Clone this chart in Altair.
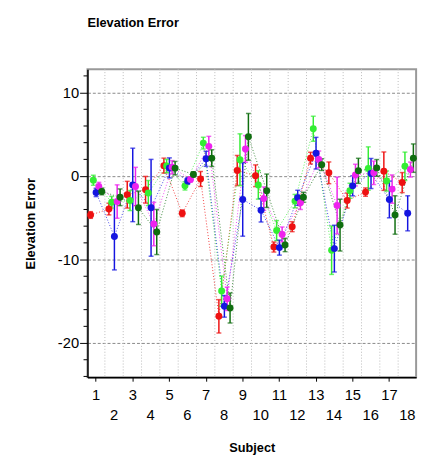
import altair as alt
import pandas as pd

subjects = list(range(1, 19))
series_names = ["red", "lightgreen", "blue", "magenta", "darkgreen"]
series_colors = ["#ee1111", "#33ee33", "#1515e0", "#ee22ee", "#0f6e0f"]
series_offsets = [-0.28, -0.13, 0.02, 0.17, 0.33]

red_mean = [-4.66, -3.95, -2.23, -1.64, 1.25, -4.46, -0.35, -16.8, 0.67, 0.04, -8.5, -6.06, 2.15, 0.39, -2.93, -1.92, 0.59, -0.78]
red_err = [0.4, 0.7, 1.6, 1.6, 0.9, 0.4, 0.9, 2.0, 1.8, 1.3, 0.6, 0.6, 0.7, 1.3, 0.9, 0.5, 2.3, 1.2]
green_mean = [-0.5, -3.13, -2.93, -2.03, 1.2, -1.17, 3.95, -13.77, 1.96, -1.06, -6.53, -3.0, 5.67, -8.88, -1.76, 0.9, -0.59, 1.17]
green_err = [0.6, 0.7, 1.2, 1.5, 0.8, 0.5, 0.7, 1.8, 3.1, 1.7, 1.2, 0.8, 1.5, 2.9, 0.9, 2.6, 1.2, 1.7]
blue_mean = [-1.96, -7.24, -1.06, -3.8, 0.98, -0.59, 2.07, -15.6, -2.8, -4.1, -8.57, -2.6, 2.74, -8.69, -1.17, 0.31, -2.8, -4.46]
blue_err = [0.5, 4.0, 4.4, 5.8, 1.2, 0.4, 0.9, 1.3, 4.4, 1.4, 0.9, 0.9, 1.9, 2.8, 1.2, 1.8, 2.2, 2.1]
magenta_mean = [-1.25, -3.05, -1.25, -5.75, 1.05, -0.4, 3.56, -14.7, 3.25, -2.7, -7.0, -3.2, 2.0, -3.52, 0.12, 0.39, -1.56, 0.78]
magenta_err = [0.5, 2.0, 2.3, 2.6, 0.8, 0.3, 1.2, 1.4, 1.6, 1.4, 0.9, 0.8, 1.0, 3.4, 1.3, 1.4, 1.7, 0.9]
dkgreen_mean = [-1.84, -2.54, -3.8, -6.7, 0.95, 0.2, 2.15, -15.8, 4.7, -1.76, -8.25, -2.54, 1.37, -5.87, 0.63, 0.98, -4.66, 2.15]
dkgreen_err = [0.4, 1.0, 2.0, 2.7, 0.8, 0.3, 1.0, 1.8, 2.8, 2.0, 0.8, 0.6, 0.7, 3.1, 1.5, 1.0, 2.3, 1.7]

y_major = [-20, -10, 0, 10]
y_minor = [-24, -22, -18, -16, -14, -12, -8, -6, -4, -2, 2, 4, 6, 8, 12]

means = [red_mean, green_mean, blue_mean, magenta_mean, dkgreen_mean]
errs = [red_err, green_err, blue_err, magenta_err, dkgreen_err]

rows = []
for name, off, m, e in zip(series_names, series_offsets, means, errs):
    for s, mv, ev in zip(subjects, m, e):
        rows.append({"series": name, "subject": s, "x": s + off,
                     "mean": mv, "lo": mv - ev, "hi": mv + ev})
df = pd.DataFrame(rows)
subj_df = pd.DataFrame({"subject": subjects})
minor_df = pd.DataFrame({"v": y_minor})

FONT = "Liberation Sans"
W, H = 335, 314
x_scale = alt.Scale(domain=[0.55, 18.48], nice=False, zero=False)
y_scale = alt.Scale(domain=[-24.1, 12.8], nice=False, zero=False)
color = alt.Color("series:N", scale=alt.Scale(domain=series_names, range=series_colors), legend=None)

x_axis = alt.Axis(
    values=subjects, title="Subject", grid=False,
    labelExpr="datum.value % 2 == 1 ? datum.label : ''",
    labelFont=FONT, labelFontSize=15, labelColor="black", labelPadding=7,
    labelAngle=0, labelOverlap=False,
    tickSize=4, tickColor="black", domainColor="black", domainWidth=1.5,
    titleFont=FONT, titleFontSize=13, titleFontWeight="bold", titlePadding=40, titleColor="black",
)
y_axis = alt.Axis(
    values=y_major, title="Elevation Error",
    labelExpr="'' + datum.value",
    labelFont=FONT, labelFontSize=15, labelColor="black", labelPadding=1, labelOverlap=False,
    tickSize=8, tickColor="black", domainColor="black", domainWidth=1.5,
    grid=True, gridColor="#888888", gridDash=[3, 2],
    titleFont=FONT, titleFontSize=13, titleFontWeight="bold", titlePadding=20, titleColor="black",
)

vgrid = alt.Chart(subj_df).transform_filter("datum.subject < 18").transform_calculate(
    gx="datum.subject + 0.5"
).mark_rule(color="#bbbbbb", strokeDash=[1, 2], strokeWidth=1).encode(
    x=alt.X("gx:Q", scale=x_scale, axis=x_axis)
)

even_labels = alt.Chart(subj_df).transform_filter("datum.subject % 2 == 0").mark_text(
    font=FONT, fontSize=15, color="black", baseline="middle", align="center"
).encode(
    x=alt.X("subject:Q", scale=x_scale), y=alt.value(H + 39), text="subject:N"
)

minor = alt.Chart(minor_df).mark_rule(color="black", strokeWidth=1).encode(
    y=alt.Y("v:Q", scale=y_scale, axis=y_axis), x=alt.value(-4), x2=alt.value(0)
)

base = alt.Chart(df)
lines = base.mark_line(strokeDash=[1, 2], strokeWidth=1, opacity=0.8).encode(
    x=alt.X("x:Q", scale=x_scale, axis=x_axis),
    y=alt.Y("mean:Q", scale=y_scale, axis=y_axis),
    color=color, detail="series:N", order="subject:Q",
)
bars = base.mark_rule(strokeWidth=1.5).encode(
    x=alt.X("x:Q", scale=x_scale), y=alt.Y("lo:Q", scale=y_scale), y2="hi:Q", color=color
)
cap_lo = base.mark_tick(orient="horizontal", size=5, thickness=1.5).encode(
    x=alt.X("x:Q", scale=x_scale), y=alt.Y("lo:Q", scale=y_scale), color=color
)
cap_hi = base.mark_tick(orient="horizontal", size=5, thickness=1.5).encode(
    x=alt.X("x:Q", scale=x_scale), y=alt.Y("hi:Q", scale=y_scale), color=color
)
points = base.mark_circle(size=50, opacity=1).encode(
    x=alt.X("x:Q", scale=x_scale), y=alt.Y("mean:Q", scale=y_scale), color=color
)

chart = alt.layer(vgrid, minor, even_labels, lines, bars, cap_lo, cap_hi, points).properties(
    width=W, height=H,
    title=alt.TitleParams("Elevation Error", anchor="start", frame="group", font=FONT,
                          fontSize=13, fontWeight="bold", color="black", offset=40),
    padding={"left": 17, "top": 4, "right": 5, "bottom": 5},
    background="white",
).configure_view(stroke="#999999", strokeWidth=2)

chart.save("out.html", embed_options={"renderer": "svg", "actions": False})
